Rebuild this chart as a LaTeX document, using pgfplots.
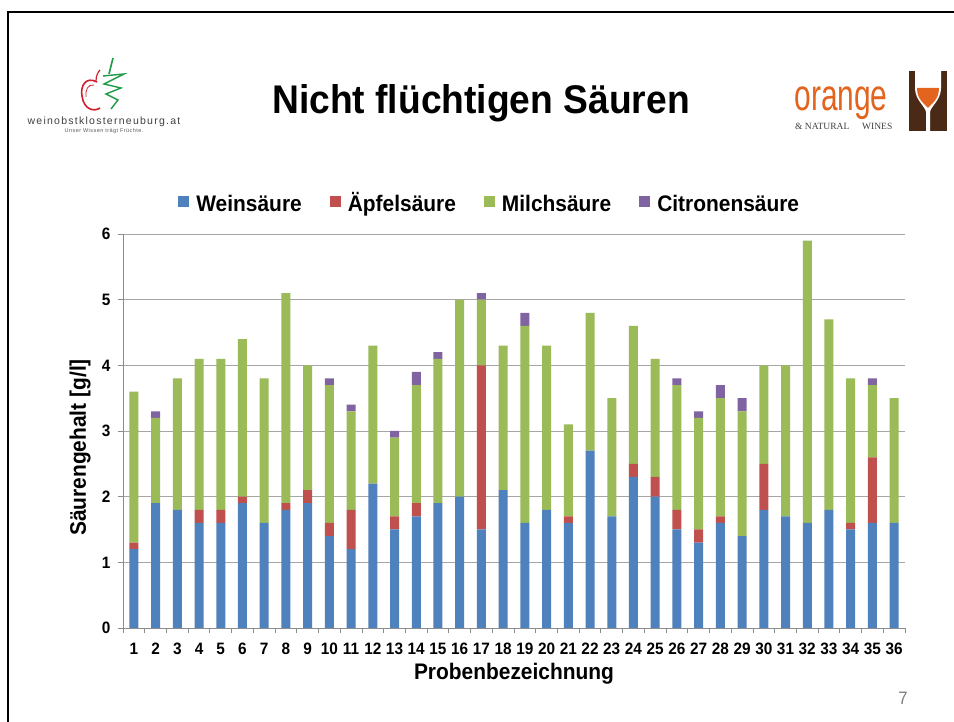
\documentclass[border=0pt]{standalone}
\usepackage{fontspec}
\setmainfont{Liberation Sans}[FakeStretch=0.93]
\newfontfamily\logosans{Liberation Sans}
\newfontfamily\logoserif{Liberation Serif}
\usepackage{pgfplots}
\usepackage{pgfplotstable}
\pgfplotsset{compat=1.18}

\definecolor{cW}{HTML}{4F81BD}
\definecolor{cA}{HTML}{C0504D}
\definecolor{cM}{HTML}{9BBB59}
\definecolor{cC}{HTML}{8064A2}
\definecolor{logoorange}{HTML}{E2641E}
\definecolor{logobrown}{HTML}{4A2A17}
\definecolor{logored}{HTML}{D0202E}
\definecolor{logogreen}{HTML}{1E9A48}

% Probe, Weinsaeure, Aepfelsaeure, Milchsaeure, Citronensaeure [g/l]
\pgfplotstableread{
n  W    A    M    C
1  1.2  0.1  2.3  0
2  1.9  0    1.3  0.1
3  1.8  0    2.0  0
4  1.6  0.2  2.3  0
5  1.6  0.2  2.3  0
6  1.9  0.1  2.4  0
7  1.6  0    2.2  0
8  1.8  0.1  3.2  0
9  1.9  0.2  1.9  0
10 1.4  0.2  2.1  0.1
11 1.2  0.6  1.5  0.1
12 2.2  0    2.1  0
13 1.5  0.2  1.2  0.1
14 1.7  0.2  1.8  0.2
15 1.9  0    2.2  0.1
16 2.0  0    3.0  0
17 1.5  2.5  1.0  0.1
18 2.1  0    2.2  0
19 1.6  0    3.0  0.2
20 1.8  0    2.5  0
21 1.6  0.1  1.4  0
22 2.7  0    2.1  0
23 1.7  0    1.8  0
24 2.3  0.2  2.1  0
25 2.0  0.3  1.8  0
26 1.5  0.3  1.9  0.1
27 1.3  0.2  1.7  0.1
28 1.6  0.1  1.8  0.2
29 1.4  0    1.9  0.2
30 1.8  0.7  1.5  0
31 1.7  0    2.3  0
32 1.6  0    4.3  0
33 1.8  0    2.9  0
34 1.5  0.1  2.2  0
35 1.6  1.0  1.1  0.1
36 1.6  0    1.9  0
}\saeuren

\begin{document}
\begin{tikzpicture}[x=1pt,y=1pt]
\useasboundingbox (0,0) rectangle (954,722);
\fill[white] (0,0) rectangle (954,722);
% slide frame
\draw[line width=2pt] (8,-1) -- (8,710) -- (955,710);

% left logo
\draw[logored, line width=1.6pt] (97,640) .. controls (86,646) and (80,636) .. (82,626)
  .. controls (84,612) and (94,610) .. (100,614);
\draw[logored, line width=0.8pt] (94,637) .. controls (88,638) and (85,632) .. (86,625);
\draw[logored, line width=1.2pt] (96,641) .. controls (96,646) and (98,650) .. (100,652);
\draw[logogreen, line width=1.6pt] (113,664) -- (109,648);
\draw[logogreen, line width=1.4pt] (103,646) -- (124,648) -- (104,638) -- (121,634)
  -- (106,628) -- (118,622) -- (111,613);
\node[font=\logosans\fontsize{10.5}{11}\selectfont\addfontfeature{LetterSpace=12},
  text=black!75] at (104,600) {weinobstklosterneuburg.at};
\node[font=\logosans\fontsize{5.5}{6}\selectfont\addfontfeature{LetterSpace=8},
  text=black!65] at (104,591) {Unser Wissen trägt Früchte.};

% title
\node[font=\fontsize{40}{44}\selectfont\bfseries] at (481,619) {Nicht flüchtigen Säuren};

% right logo
\node[font=\logosans\fontsize{44}{46}\selectfont, text=logoorange, xscale=0.68,
  anchor=base, inner sep=0pt, text depth=0pt] at (841,611) {orange};
\node[font=\logoserif\fontsize{9.5}{10}\selectfont, text=black!75, anchor=base west,
  inner sep=0pt] at (795,592) {\&~NATURAL};
\node[font=\logoserif\fontsize{9.5}{10}\selectfont, text=black!75, anchor=base west,
  inner sep=0pt] at (862,592) {WINES};
\fill[logobrown] (909,591) rectangle (947,651);
\fill[white] (915,651) -- (941,651) -- (941,634)
  .. controls (941,622) and (931,616) .. (930,610) -- (930,591) -- (926,591) -- (926,610)
  .. controls (925,616) and (915,622) .. (915,634) -- cycle;
\fill[logoorange] (917,634) -- (939,634) .. controls (939,622) and (931,618) .. (928,614)
  .. controls (925,618) and (917,622) .. (917,634) -- cycle;

% page number
\node[font=\fontsize{18}{20}\selectfont, text=black!50] at (903,24) {7};

\begin{axis}[
  at={(123pt,94pt)}, anchor=south west,
  scale only axis, width=782pt, height=394pt,
  ybar stacked, bar width=9pt,
  xmin=0.5, xmax=36.5, ymin=0, ymax=6,
  enlargelimits=false,
  axis x line*=bottom, axis y line*=left,
  axis line style={draw=black!45, line width=0.8pt},
  xtick={1,...,36},
  minor xtick={0.5,1.5,...,36.5},
  ytick={0,1,...,6},
  major x tick style={draw=none},
  minor tick length=5pt, major tick length=5pt,
  tick align=outside,
  tick style={draw=black!45, line width=0.8pt},
  ymajorgrids, grid style={draw=black!35, line width=0.9pt},
  /pgf/number format/assume math mode=true,
  ticklabel style={font=\fontsize{16.5}{17}\selectfont\bfseries},
  xticklabel style={text height=12pt, text depth=0pt, yshift=-6pt},
  yticklabel style={xshift=-4pt},
  xlabel={Probenbezeichnung},
  ylabel={Säurengehalt [g/l]},
  label style={font=\fontsize{22.5}{24}\selectfont\bfseries},
  xlabel style={at={(0.5,-0.116)}, anchor=center},
  ylabel style={at={(-0.055,0.458)}, anchor=center},
  legend columns=4,
  legend style={at={(0.469,1.0787)}, anchor=center, draw=none,
    font=\fontsize{22.5}{24}\selectfont\bfseries,
    /tikz/every odd column/.append style={column sep=5pt},
    /tikz/every even column/.append style={column sep=26pt}},
  legend image code/.code={\fill[#1] (0pt,-4pt) rectangle (11pt,7pt);},
]
\addplot[fill=cW, draw=none] table[x=n, y=W] {\saeuren};
\addplot[fill=cA, draw=none] table[x=n, y=A] {\saeuren};
\addplot[fill=cM, draw=none] table[x=n, y=M] {\saeuren};
\addplot[fill=cC, draw=none] table[x=n, y=C] {\saeuren};
\legend{\vphantom{Äg}Weinsäure, \vphantom{Äg}Äpfelsäure, \vphantom{Äg}Milchsäure,
  \vphantom{Äg}Citronensäure}
\end{axis}
\end{tikzpicture}
\end{document}
